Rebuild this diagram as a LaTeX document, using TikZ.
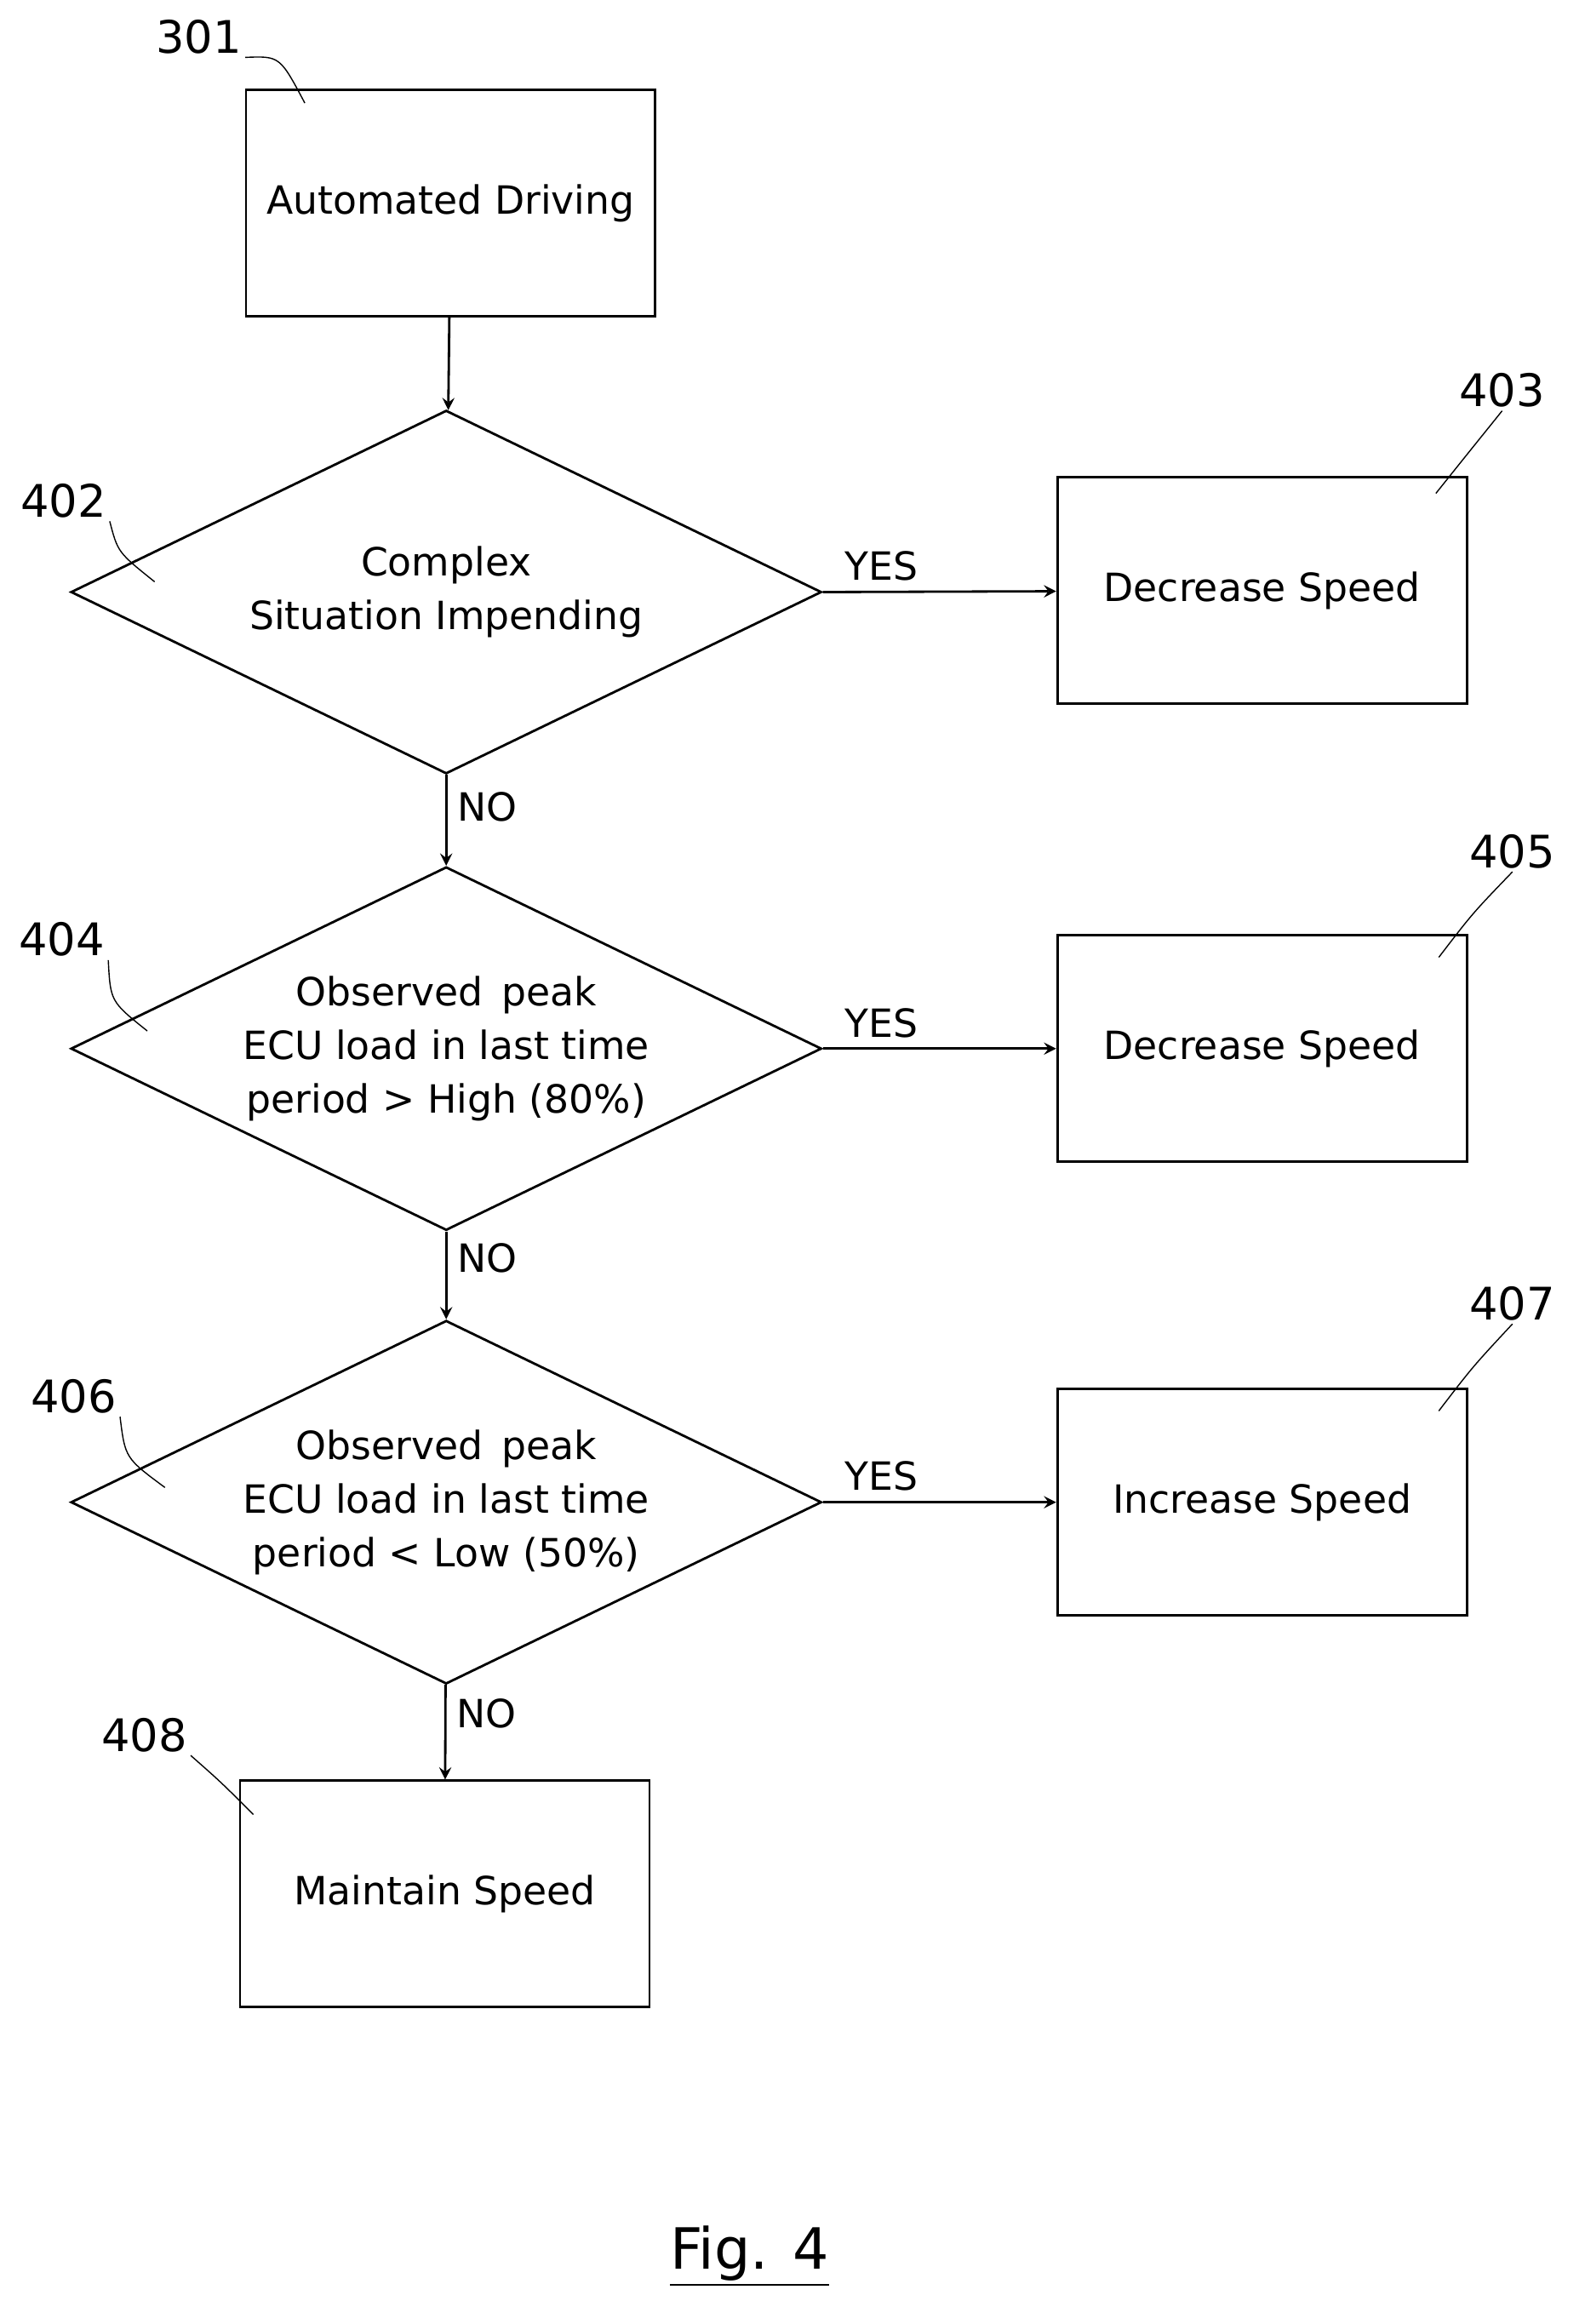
\documentclass[tikz,border=0pt]{standalone}
\usepackage{fontspec}
\setmainfont{DejaVu Sans}
\usetikzlibrary{arrows,positioning,shapes.geometric}

\begin{document}
\begin{tikzpicture}[
    x=0.0173cm, y=-0.0173cm,
    every node/.style={font=\fontsize{13}{18}\selectfont},
    process/.style={rectangle, draw, thick, minimum width=4.81cm, minimum height=2.66cm, text centered, inner sep=0pt},
    decision/.style={diamond, draw, thick, minimum width=8.82cm, minimum height=4.27cm, aspect=2.06, text centered, align=center, inner sep=0pt},
    refnum/.style={font=\fontsize{15}{18}\selectfont, inner sep=1pt},
    leader/.style={thin},
    arrow/.style={->, thick, >=stealth}
]
    \useasboundingbox (0,0) rectangle (1076,1578);

    % Main vertical flow
    \node[process] (drive) at (306,138) {Automated Driving};
    \node[decision] (complex) at (303,402) {Complex\\Situation Impending};
    \node[decision] (high) at (303,712) {Observed\, peak\\ECU load in last time\\period > High (80\%)};
    \node[decision] (low) at (303,1020) {Observed\, peak\\ECU load in last time\\period < Low (50\%)};
    \node[process] (maintain) at (302,1286) {Maintain Speed};

    % Side nodes
    \node[process] (dec1) at (857,401) {Decrease Speed};
    \node[process] (dec2) at (857,712) {Decrease Speed};
    \node[process] (inc) at (857,1020) {Increase Speed};

    % Main flow arrows
    \draw[arrow] (drive) -- (complex);
    \draw[arrow] (complex) -- node[right, pos=0.35] {NO} (high);
    \draw[arrow] (high) -- node[right, pos=0.3] {NO} (low);
    \draw[arrow] (low) -- node[right, pos=0.3] {NO} (maintain);

    % Decision branches
    \draw[arrow] (complex.east) -- node[above, near start] {YES} (dec1);
    \draw[arrow] (high.east) -- node[above, near start] {YES} (dec2);
    \draw[arrow] (low.east) -- node[above, near start] {YES} (inc);

    % Reference numerals
    \node[refnum] (n301) at (135,25) {301};
    \node[refnum] (n402) at (43,340) {402};
    \node[refnum] (n403) at (1020,265) {403};
    \node[refnum] (n404) at (42,638) {404};
    \node[refnum] (n405) at (1027,578) {405};
    \node[refnum] (n406) at (50,948) {406};
    \node[refnum] (n407) at (1027,885) {407};
    \node[refnum] (n408) at (98,1178) {408};
    \draw[leader] (n301.south east) .. controls (190,38) .. (207,70);
    \draw[leader] (n402.south east) .. controls (80,375) .. (105,395);
    \draw[leader] (n403.south) .. controls (995,310) .. (975,335);
    \draw[leader] (n404.south east) .. controls (75,680) .. (100,700);
    \draw[leader] (n405.south) .. controls (1000,620) .. (977,650);
    \draw[leader] (n406.south east) .. controls (85,990) .. (112,1010);
    \draw[leader] (n407.south) .. controls (1000,928) .. (977,958);
    \draw[leader] (n408.south east) .. controls (150,1210) .. (172,1232);

    % Figure caption
    \node[font=\fontsize{19}{22}\selectfont] (caption) at (509,1532) {\underline{Fig. 4}};
\end{tikzpicture}
\end{document}
